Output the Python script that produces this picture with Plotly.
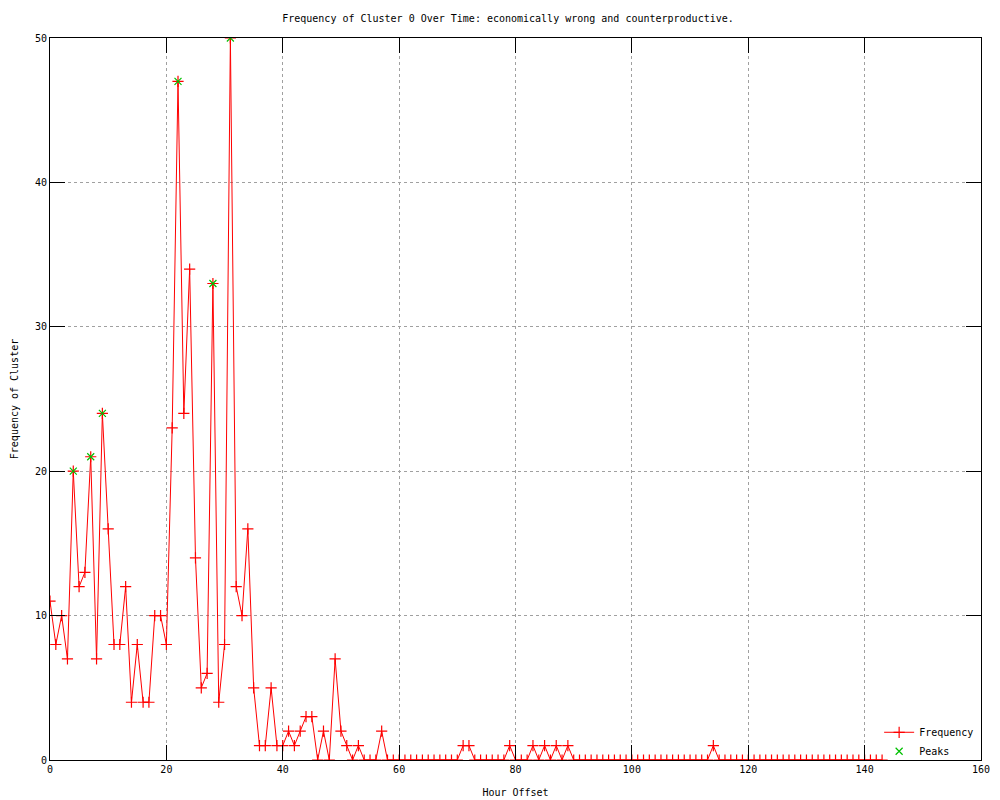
import plotly.graph_objects as go

hours = list(range(0, 144))
freq_head = [11, 8, 10, 7, 20, 12, 13, 21, 7, 24,
             16, 8, 8, 12, 4, 8, 4, 4, 10, 10,
             8, 23, 47, 24, 34, 14, 5, 6, 33, 4,
             8, 50, 12, 10, 16, 5, 1, 1, 5, 1,
             1, 2, 1, 2, 3, 3, 0, 2, 0, 7,
             2, 1, 0, 1, 0, 0, 0, 2]
freq = freq_head + [0] * (144 - len(freq_head))
# isolated single counts in the tail
for h in [71, 72, 79, 83, 85, 87, 89, 114]:
    freq[h] = 1

peak_hours = [4, 7, 9, 22, 28, 31]
peak_values = [20, 21, 24, 47, 33, 50]

x_ticks = [0, 20, 40, 60, 80, 100, 120, 140, 160]
y_ticks = [0, 10, 20, 30, 40, 50]

FONT = "DejaVu Sans Mono"

fig = go.Figure()
fig.add_trace(go.Scatter(
    x=hours, y=freq, mode="lines+markers", name="Frequency",
    line=dict(color="#ff0000", width=1),
    marker=dict(symbol="cross-thin", size=8, color="#ff0000",
                line=dict(color="#ff0000", width=1.2)),
))
fig.add_trace(go.Scatter(
    x=peak_hours, y=peak_values, mode="markers", name="Peaks",
    marker=dict(symbol="x-thin", size=7, color="#00c000",
                line=dict(color="#00c000", width=1.2)),
))

axis_common = dict(
    showline=True, linecolor="black", linewidth=1, mirror="ticks",
    ticks="inside", ticklen=15, tickcolor="black", tickwidth=1,
    showgrid=True, gridcolor="#a0a0a0", griddash="dot", gridwidth=1,
    zeroline=False, automargin=False,
    tickfont=dict(family=FONT, size=10, color="black"),
)

fig.update_layout(
    width=1000, height=800,
    paper_bgcolor="white", plot_bgcolor="white",
    margin=dict(l=42, r=27, t=30, b=48),
    font=dict(family=FONT, size=10, color="black"),
    title=dict(text="Frequency of Cluster 0 Over Time: economically wrong and counterproductive.",
               x=0.5, xanchor="center", y=0.9875, yanchor="middle",
               font=dict(family=FONT, size=10, color="black")),
    xaxis=dict(range=[0, 160], tickvals=x_ticks,
               title=dict(text="Hour Offset", standoff=14,
                          font=dict(family=FONT, size=10)),
               **axis_common),
    yaxis=dict(range=[0, 50], tickvals=y_ticks,
               title=dict(text="Frequency of Cluster", standoff=14,
                          font=dict(family=FONT, size=10)),
               **axis_common),
    legend=dict(x=0.998, y=-0.008, xanchor="right", yanchor="bottom",
                bgcolor="rgba(0,0,0,0)", borderwidth=0,
                font=dict(family=FONT, size=10, color="black"),
                tracegroupgap=0, itemwidth=30),
    showlegend=True,
)

fig.write_html("out.html")
